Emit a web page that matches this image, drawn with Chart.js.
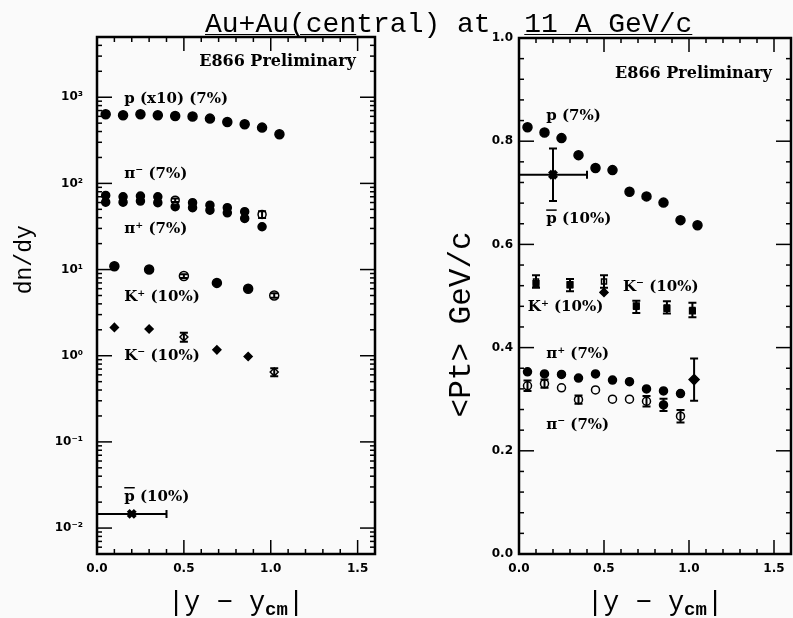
<!DOCTYPE html>
<html>
<head>
<meta charset="utf-8">
<script src="https://cdn.jsdelivr.net/npm/chart.js@4.4.1/dist/chart.umd.min.js"></script>
<style>
  html, body { margin: 0; padding: 0; background: #fafafa; }
  #wrap { position: relative; width: 793px; height: 618px; overflow: hidden; }
  canvas { position: absolute; top: 0; }
  #left { left: 0; }
  #right { left: 400px; }
  #title {
    position: absolute; left: 205px; top: 11px;
    font: 28px "Liberation Mono", monospace; line-height: 28px;
    white-space: pre; color: #000;
  }
  #title u { text-underline-offset: 2px; text-decoration-thickness: 1px; }
</style>
</head>
<body>
<div id="wrap">
  <canvas id="left" width="400" height="618"></canvas>
  <canvas id="right" width="400" height="618"></canvas>
  <div id="title"><u>Au+Au(cen</u>tral) at  <u>11 A GeV/c</u></div>
</div>
<script>
// Values
const xTicks = [0.0, 0.5, 1.0, 1.5];
const dndyTicks = [1e-2, 1e-1, 1e0, 1e1, 1e2, 1e3];
const ptTicks = [0.0, 0.2, 0.4, 0.6, 0.8, 1.0];

const pX = [0.05, 0.15, 0.25, 0.35, 0.45, 0.55, 0.65, 0.75, 0.85, 0.95, 1.05];
const piX = [0.05, 0.15, 0.25, 0.35, 0.45, 0.55, 0.65, 0.75, 0.85, 0.95];
const kX = [0.1, 0.3, 0.5, 0.69, 0.87, 1.02];
const pbarX = [0.2];
const pbarXErr = [0.2];

// dn/dy (protons already scaled x10)
const pDndy = [634, 618, 634, 618, 606, 597, 565, 516, 486, 444, 371];
const piMinusDndy = [72.5, 70.0, 71.2, 70.0, 63.9, 59.7, 55.9, 52.2, 46.9, 43.6];
const piMinusDndyErr = [0, 0, 0, 0, 3, 0, 0, 0, 0, 4];
const piPlusDndy = [60.6, 60.6, 62.3, 59.7, 53.6, 52.2, 48.9, 45.6, 39.2, 31.4];
const kPlusDndy = [10.9, 10.0, 8.4, 7.0, 6.0, 5.0];
const kPlusDndyErr = [0, 0, 0.4, 0, 0, 0.3];
const kMinusDndy = [2.13, 2.04, 1.65, 1.17, 0.98, 0.646];
const kMinusDndyErr = [0, 0, 0.2, 0, 0, 0.07];
const pbarDndy = [0.0146];

// <Pt> in GeV/c
const pPt = [0.827, 0.817, 0.806, 0.773, 0.748, 0.744, 0.702, 0.693, 0.681, 0.647, 0.637];
const pbarPt = [0.735];
const pbarPtErr = [0.051];
const kPlusPt = [0.524, 0.522, 0.507, 0.481, 0.476, 0.471];
const kMinusPt = [0.528, 0.521, 0.528, 0.479, 0.478, 0.473];
const kMinusPtErr = [0.012, 0.012, 0.012, 0.012, 0.012, 0.014];
const piPlusPt = [0.353, 0.349, 0.348, 0.341, 0.349, 0.337, 0.334, 0.320, 0.316, 0.311];
const piMinusPt = [0.326, 0.330, 0.322, 0.299, 0.318, 0.300, 0.300, 0.296, 0.289, 0.267];
const piMinusPtErr = [0.01, 0.008, 0, 0.008, 0, 0, 0, 0.01, 0.012, 0.012];
const piExtraX = [1.03];
const piExtraPt = [0.338];
const piExtraPtErr = [0.041];

const INK = '#000';
const PAPER = '#fafafa';
const TICK_FONT = { family: 'DejaVu Sans', size: 12, weight: 'bold' };
const NOTE_FONT = 'bold 15px "DejaVu Serif"';
const TAG_FONT = 'bold 16px "DejaVu Serif"';

function pts(xs, ys) {
    return xs.map((x, i) => ({ x: x, y: ys[i] }));
}

// fill black except at the listed indices (open symbols)
function openAt(idx) {
    return ctx => idx.includes(ctx.dataIndex) ? PAPER : INK;
}

const SUP = { '-': '\u207B', '0': '\u2070', '1': '\u00B9', '2': '\u00B2', '3': '\u00B3' };
function powerLabel(v) {
    const e = String(Math.round(Math.log10(v)));
    return '10' + e.split('').map(c => SUP[c]).join('');
}

// error bars from dataset.errX / dataset.errY
const errorBars = {
    id: 'errorBars',
    afterDatasetsDraw(chart) {
        const { ctx, scales } = chart;
        ctx.save();
        ctx.strokeStyle = INK;
        ctx.lineWidth = 2;
        chart.data.datasets.forEach((ds, i) => {
            const meta = chart.getDatasetMeta(i);
            meta.data.forEach((el, j) => {
                const d = ds.data[j];
                if (ds.errY && ds.errY[j]) {
                    const y1 = scales.y.getPixelForValue(d.y - ds.errY[j]);
                    const y2 = scales.y.getPixelForValue(d.y + ds.errY[j]);
                    ctx.beginPath();
                    ctx.moveTo(el.x, y1); ctx.lineTo(el.x, y2);
                    ctx.moveTo(el.x - 4, y1); ctx.lineTo(el.x + 4, y1);
                    ctx.moveTo(el.x - 4, y2); ctx.lineTo(el.x + 4, y2);
                    ctx.stroke();
                }
                if (ds.errX && ds.errX[j]) {
                    const x1 = scales.x.getPixelForValue(d.x - ds.errX[j]);
                    const x2 = scales.x.getPixelForValue(d.x + ds.errX[j]);
                    ctx.beginPath();
                    ctx.moveTo(x1, el.y); ctx.lineTo(x2, el.y);
                    ctx.moveTo(x1, el.y - 4); ctx.lineTo(x1, el.y + 4);
                    ctx.moveTo(x2, el.y - 4); ctx.lineTo(x2, el.y + 4);
                    ctx.stroke();
                }
            });
        });
        ctx.restore();
    }
};

// boxed frame with inward ticks on all four sides, plus notes and axis titles
const frame = {
    id: 'frame',
    afterDraw(chart, args, opts) {
        const { ctx, chartArea: a, scales } = chart;
        ctx.save();
        ctx.strokeStyle = INK;
        ctx.fillStyle = INK;
        ctx.lineWidth = 1.5;
        const seg = (x1, y1, x2, y2) => { ctx.beginPath(); ctx.moveTo(x1, y1); ctx.lineTo(x2, y2); ctx.stroke(); };

        opts.xMinor.forEach(v => {
            const p = scales.x.getPixelForValue(v);
            const len = opts.xMajor.some(m => Math.abs(m - v) < 1e-9) ? 14 : 5;
            seg(p, a.bottom, p, a.bottom - len);
            seg(p, a.top, p, a.top + len);
        });
        opts.yMinor.forEach(v => {
            const p = scales.y.getPixelForValue(v);
            const len = opts.yMajor.some(m => Math.abs(m - v) < 1e-9 * Math.max(1, m)) ? 15 : 5;
            seg(a.left, p, a.left + len, p);
            seg(a.right, p, a.right - len, p);
        });

        ctx.lineWidth = 2.5;
        ctx.strokeRect(a.left, a.top, a.right - a.left, a.bottom - a.top);

        // text notes inside the plot
        ctx.textBaseline = 'middle';
        opts.notes.forEach(n => {
            ctx.font = n.font || NOTE_FONT;
            ctx.textAlign = n.align || 'left';
            const px = scales.x.getPixelForValue(n.x);
            const py = scales.y.getPixelForValue(n.y);
            ctx.fillText(n.text, px, py);
            if (n.bar) {
                const w = ctx.measureText(n.text.charAt(0)).width;
                ctx.lineWidth = 1.5;
                seg(px, py - 9, px + w, py - 9);
            }
        });

        // y axis title
        const yt = opts.yTitle;
        ctx.save();
        ctx.translate(a.left - yt.offset, scales.y.getPixelForValue(yt.at));
        ctx.rotate(-Math.PI / 2);
        ctx.font = yt.font;
        ctx.textAlign = 'center';
        ctx.textBaseline = 'middle';
        ctx.fillText(yt.text, 0, 0);
        ctx.restore();

        // x axis title |y - y_cm|
        const mainFont = '27px "Liberation Mono"';
        const subFont = 'bold 19px "Liberation Mono"';
        ctx.textAlign = 'left';
        ctx.textBaseline = 'alphabetic';
        ctx.font = mainFont;
        const w1 = ctx.measureText('|y \u2212 y').width;
        const w3 = ctx.measureText('|').width;
        ctx.font = subFont;
        const w2 = ctx.measureText('cm').width;
        let x = (a.left + a.right) / 2 - (w1 + w2 + w3) / 2;
        const base = a.bottom + 56;
        ctx.font = mainFont;
        ctx.fillText('|y \u2212 y', x, base);
        x += w1;
        ctx.font = subFont;
        ctx.fillText('cm', x, base + 5);
        x += w2;
        ctx.font = mainFont;
        ctx.fillText('|', x, base);

        ctx.restore();
    }
};

function linearMinor(min, max, step) {
    const out = [];
    for (let i = 0; min + i * step <= max + 1e-9; i++) out.push(Math.round((min + i * step) * 1000) / 1000);
    return out;
}

function logMinor(min, max) {
    const out = [];
    for (let e = -3; e <= 4; e++) {
        for (let k = 1; k <= 9; k++) {
            const v = k * Math.pow(10, e);
            if (v >= min && v <= max) out.push(v);
        }
    }
    return out;
}

function xScale() {
    return {
        type: 'linear', min: 0, max: 1.6,
        grid: { display: false, drawTicks: false },
        border: { display: false },
        ticks: { font: TICK_FONT, color: INK, padding: 8, maxRotation: 0, callback: v => v.toFixed(1) },
        afterBuildTicks: s => { s.ticks = xTicks.map(v => ({ value: v })); },
        afterFit: s => { s.height = 64; }
    };
}

function baseOptions() {
    return {
        responsive: false,
        animation: false,
        events: [],
        plugins: { legend: { display: false }, tooltip: { enabled: false } },
        elements: { point: { borderColor: INK, borderWidth: 1.5 } }
    };
}

// Left panel: dn/dy
const leftOpts = baseOptions();
leftOpts.layout = { padding: { left: 0, right: 25, top: 37, bottom: 0 } };
leftOpts.scales = {
    x: xScale(),
    y: {
        type: 'logarithmic', min: 0.005, max: 5000,
        grid: { display: false, drawTicks: false },
        border: { display: false },
        ticks: { font: TICK_FONT, color: INK, padding: 14, callback: v => powerLabel(v) },
        afterBuildTicks: s => { s.ticks = dndyTicks.map(v => ({ value: v })); },
        afterFit: s => { s.width = 97; }
    }
};
leftOpts.plugins.frame = {
    xMajor: xTicks, xMinor: linearMinor(0, 1.6, 0.1),
    yMajor: dndyTicks, yMinor: logMinor(0.005, 5000),
    yTitle: { text: 'dn/dy', font: '23px "Liberation Mono"', offset: 72, at: 13 },
    notes: [
        { text: 'E866 Preliminary', x: 1.49, y: 2550, align: 'right', font: TAG_FONT },
        { text: 'p (x10) (7%)', x: 0.157, y: 948 },
        { text: '\u03C0\u207B (7%)', x: 0.157, y: 127 },
        { text: '\u03C0\u207A (7%)', x: 0.157, y: 29.2 },
        { text: 'K\u207A (10%)', x: 0.157, y: 4.81 },
        { text: 'K\u207B (10%)', x: 0.157, y: 0.98 },
        { text: 'p (10%)', x: 0.157, y: 0.0231, bar: true }
    ]
};

new Chart(document.getElementById('left'), {
    type: 'scatter',
    data: {
        datasets: [
            { label: 'p (x10)', data: pts(pX, pDndy), pointStyle: 'circle', pointRadius: 4.5, backgroundColor: INK },
            { label: 'pi-', data: pts(piX, piMinusDndy), pointStyle: 'circle', pointRadius: 4, backgroundColor: openAt([4, 9]), errY: piMinusDndyErr },
            { label: 'pi+', data: pts(piX, piPlusDndy), pointStyle: 'circle', pointRadius: 4, backgroundColor: INK },
            { label: 'K+', data: pts(kX, kPlusDndy), pointStyle: 'circle', pointRadius: 4.5, backgroundColor: openAt([2, 5]), errY: kPlusDndyErr },
            { label: 'K-', data: pts(kX, kMinusDndy), pointStyle: 'rectRot', pointRadius: 4, backgroundColor: openAt([2, 5]), errY: kMinusDndyErr },
            { label: 'pbar', data: pts(pbarX, pbarDndy), pointStyle: 'crossRot', pointRadius: 5, borderWidth: 4, errX: pbarXErr }
        ]
    },
    options: leftOpts,
    plugins: [errorBars, frame]
});

// Right panel: <Pt>
const rightOpts = baseOptions();
rightOpts.layout = { padding: { left: 0, right: 4, top: 38, bottom: 0 } };
rightOpts.scales = {
    x: xScale(),
    y: {
        type: 'linear', min: 0, max: 1.0,
        grid: { display: false, drawTicks: false },
        border: { display: false },
        ticks: { font: TICK_FONT, color: INK, padding: 6, callback: v => v.toFixed(1) },
        afterBuildTicks: s => { s.ticks = ptTicks.map(v => ({ value: v })); },
        afterFit: s => { s.width = 119; }
    }
};
rightOpts.plugins.frame = {
    xMajor: xTicks, xMinor: linearMinor(0, 1.6, 0.1),
    yMajor: ptTicks, yMinor: linearMinor(0, 1.0, 0.04),
    yTitle: { text: '<Pt> GeV/c', font: '31px "Liberation Mono"', offset: 57, at: 0.445 },
    notes: [
        { text: 'E866 Preliminary', x: 1.487, y: 0.930, align: 'right', font: TAG_FONT },
        { text: 'p (7%)', x: 0.16, y: 0.848 },
        { text: 'p (10%)', x: 0.16, y: 0.649, bar: true },
        { text: 'K\u207B (10%)', x: 0.612, y: 0.517 },
        { text: 'K\u207A (10%)', x: 0.052, y: 0.478 },
        { text: '\u03C0\u207A (7%)', x: 0.16, y: 0.388 },
        { text: '\u03C0\u207B (7%)', x: 0.16, y: 0.250 }
    ]
};

new Chart(document.getElementById('right'), {
    type: 'scatter',
    data: {
        datasets: [
            { label: 'p', data: pts(pX, pPt), pointStyle: 'circle', pointRadius: 4.5, backgroundColor: INK },
            { label: 'pbar', data: pts(pbarX, pbarPt), pointStyle: 'crossRot', pointRadius: 5, borderWidth: 4, errX: pbarXErr, errY: pbarPtErr },
            { label: 'K+', data: pts(kX, kPlusPt), pointStyle: ctx => ctx.dataIndex === 2 ? 'rectRot' : 'rect', pointRadius: 4, backgroundColor: INK },
            { label: 'K-', data: pts(kX, kMinusPt), pointStyle: 'rect', pointRadius: 3.5, backgroundColor: PAPER, errY: kMinusPtErr },
            { label: 'pi+', data: pts(piX, piPlusPt), pointStyle: 'circle', pointRadius: 4, backgroundColor: INK },
            { label: 'pi-', data: pts(piX, piMinusPt), pointStyle: 'circle', pointRadius: 4, backgroundColor: openAt([0, 1, 2, 3, 4, 5, 6, 7, 9]), errY: piMinusPtErr },
            { label: 'pi (other)', data: pts(piExtraX, piExtraPt), pointStyle: 'rectRot', pointRadius: 5, backgroundColor: INK, errY: piExtraPtErr }
        ]
    },
    options: rightOpts,
    plugins: [errorBars, frame]
});
</script>
</body>
</html>
